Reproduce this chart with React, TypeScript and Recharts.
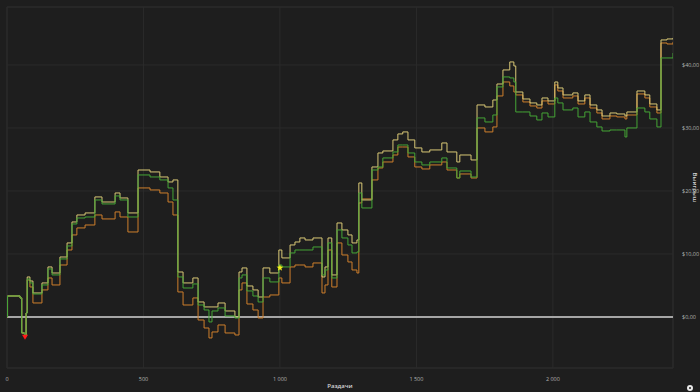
import React from 'react';
import { LineChart, Line, XAxis, YAxis, CartesianGrid, ReferenceLine, ReferenceDot, ReferenceArea } from 'recharts';

// Hands played (x) and three cumulative winnings curves ($)
const hands = [
  0, 2, 48, 54, 64, 70, 74, 84, 95, 128,
  150, 165, 194, 220, 238, 256, 286, 322, 348, 396,
  414, 443, 480, 524, 560, 590, 608, 626, 645, 681,
  700, 722, 740, 751, 773, 799, 835, 850, 861, 879,
  901, 920, 938, 963, 996, 1007, 1037, 1055, 1073, 1092,
  1121, 1154, 1165, 1176, 1190, 1209, 1227, 1249, 1264, 1282,
  1289, 1300, 1337, 1359, 1377, 1414, 1432, 1450, 1469, 1494,
  1520, 1549, 1593, 1612, 1648, 1659, 1700, 1722, 1751, 1780,
  1795, 1817, 1842, 1857, 1864, 1890, 1916, 1941, 1960, 1982,
  2007, 2018, 2037, 2073, 2092, 2117, 2136, 2161, 2180, 2209,
  2234, 2264, 2271, 2308, 2337, 2355, 2381, 2396, 2418, 2440,
];

const goldLine = [
  0, 3.33, 3.02, -2.54, -3.02, 0.63, 6.35, 5.71, 3.81, 5.4,
  7.94, 6.98, 9.52, 11.75, 15.08, 16.19, 16.51, 19.05, 18.25, 19.68,
  18.89, 16.51, 23.33, 23.02, 22.22, 21.43, 21.75, 7.14, 5.4, 6.19,
  2.38, 1.59, 1.59, 1.59, 2.22, 0.95, 0.0, 7.14, 7.78, 4.92,
  4.29, 3.17, 7.78, 6.98, 10.63, 9.37, 11.43, 11.9, 12.54, 12.22,
  12.54, 6.35, 7.94, 12.54, 6.67, 14.92, 13.81, 13.02, 11.75, 12.22,
  21.27, 18.57, 23.81, 26.03, 26.35, 28.1, 29.05, 29.37, 28.1, 26.83,
  26.19, 26.51, 27.62, 26.19, 24.6, 25.71, 24.92, 33.65, 33.33, 34.44,
  36.98, 39.21, 40.48, 39.84, 35.71, 34.6, 33.97, 33.65, 34.76, 34.29,
  37.3, 36.35, 35.24, 35.56, 34.29, 35.24, 33.65, 32.86, 31.9, 32.38,
  32.22, 31.9, 32.54, 35.87, 35.24, 33.81, 32.86, 43.97, 44.13, 44.29,
];

const greenLine = [
  0, 3.33, 3.02, -2.54, -3.02, 0.63, 6.03, 5.4, 3.65, 5.08,
  7.62, 6.67, 9.21, 11.27, 14.76, 15.71, 15.87, 18.57, 17.94, 19.21,
  18.57, 15.87, 22.54, 22.22, 21.75, 20.48, 18.57, 6.35, 4.6, 5.24,
  1.9, 1.11, -0.79, 0.95, 1.43, 0.16, -0.16, 6.19, 6.67, 4.13,
  3.33, 2.38, 6.19, 5.56, 8.25, 7.94, 10.16, 10.63, 10.63, 10.63,
  11.11, 6.67, 7.46, 11.75, 6.19, 13.81, 12.54, 11.43, 10.16, 10.32,
  19.68, 17.3, 23.33, 23.81, 25.24, 26.19, 27.3, 27.3, 26.03, 24.6,
  24.13, 24.6, 25.24, 23.65, 22.06, 23.17, 22.22, 31.59, 30.95, 32.06,
  36.51, 38.1, 37.94, 37.3, 32.54, 32.54, 31.9, 31.27, 32.38, 31.75,
  34.76, 33.97, 32.86, 33.17, 31.75, 32.54, 30.95, 30.16, 29.52, 29.68,
  29.68, 28.57, 30.0, 33.17, 32.54, 31.43, 30.16, 41.11, 41.11, 41.9,
];

const orangeLine = [
  0, 3.33, 3.02, -2.54, -3.02, 0.63, 5.87, 4.76, 2.22, 4.29,
  6.19, 5.08, 8.25, 10.63, 13.02, 14.13, 14.6, 16.19, 15.56, 16.67,
  15.87, 13.49, 20.48, 20.16, 19.68, 18.25, 16.19, 3.97, 1.9, 3.02,
  -0.48, -1.75, -3.33, -2.38, -1.27, -2.54, -2.86, 4.29, 5.4, 2.06,
  1.11, -0.16, 3.17, 3.49, 6.19, 5.4, 7.94, 8.25, 8.25, 7.94,
  8.57, 3.81, 5.08, 10.63, 4.76, 11.75, 9.84, 8.73, 7.46, 6.98,
  18.1, 18.73, 21.75, 23.65, 24.6, 25.71, 26.98, 26.98, 25.4, 23.81,
  23.49, 24.13, 24.6, 23.33, 22.06, 22.7, 22.06, 30.0, 29.37, 30.16,
  35.08, 37.3, 36.67, 35.71, 35.24, 34.13, 33.49, 33.17, 34.29, 33.81,
  36.83, 35.87, 34.76, 35.08, 33.81, 34.76, 33.17, 32.38, 31.43, 31.9,
  31.75, 31.43, 32.06, 35.4, 34.76, 33.33, 32.38, 43.49, 43.33, 43.65,
];

const xTicks = [0, 500, 1000, 1500, 2000];
const yTicks = [0, 10, 20, 30, 40];
const xMax = 2440;
const yMin = -8.1;
const yMax = 49.2;

// lowest point (red) and marked hand (yellow star)
const lowPoint = { hand: 66, value: -3.2 };
const starPoint = { hand: 1000, value: 7.8 };

const data = hands.map((hand, i) => ({
  hand,
  gold: goldLine[i],
  orange: orangeLine[i],
  green: greenLine[i],
}));

const formatHands = (v: number) => (v >= 1000 ? `${Math.floor(v / 1000)} ${String(v % 1000).padStart(3, '0')}` : String(v));
const formatMoney = (v: number) => `$${v.toFixed(2).replace('.', ',')}`;

const tickStyle = { fontSize: 5.5, fill: '#b4b4b4', fontFamily: 'Open Sans' };

const RedTriangle = (props: any) => {
  const { cx, cy } = props;
  return <path d={`M${cx - 3},${cy - 2.5} L${cx + 3},${cy - 2.5} L${cx},${cy + 2.5} Z`} fill="#ff1a1a" />;
};

const Star = (props: any) => {
  const { cx, cy } = props;
  const r1 = 3.6;
  const r2 = 1.5;
  let d = '';
  for (let i = 0; i < 10; i++) {
    const r = i % 2 === 0 ? r1 : r2;
    const a = -Math.PI / 2 + (i * Math.PI) / 5;
    d += `${i === 0 ? 'M' : 'L'}${cx + r * Math.cos(a)},${cy + r * Math.sin(a)} `;
  }
  return <path d={d + 'Z'} fill="#f5ef1a" />;
};

const App: React.FC = () => {
  return (
    <div style={{ position: 'fixed', left: 0, top: 0, width: 700, height: 392, background: '#1e1e1e' }}>
      <LineChart width={700} height={392} data={data} margin={{ top: 7, right: 0, left: 7, bottom: 0 }}>
        <CartesianGrid stroke="#2b2b2b" strokeWidth={1} />
        <ReferenceArea x1={0} x2={xMax} y1={yMin} y2={yMax} fill="none" stroke="#2b2b2b" strokeWidth={1} />
        <XAxis
          dataKey="hand"
          type="number"
          domain={[0, xMax]}
          ticks={xTicks}
          allowDataOverflow
          height={24}
          axisLine={false}
          tickLine={false}
          tick={tickStyle}
          tickMargin={3}
          tickFormatter={formatHands}
          label={{ value: 'Раздачи', position: 'insideBottom', offset: 4, fontSize: 6, fill: '#d4d4d4', fontWeight: 600, fontFamily: 'Open Sans' }}
        />
        <YAxis
          orientation="right"
          type="number"
          domain={[yMin, yMax]}
          ticks={yTicks}
          allowDataOverflow
          width={27}
          axisLine={false}
          tickLine={false}
          tick={{ ...tickStyle, textAnchor: 'start' }}
          tickMargin={3}
          tickFormatter={formatMoney}
          label={{
            content: (p: any) => {
              const vb = p.viewBox || {};
              const x = vb.x + vb.width - 5;
              const y = vb.y + vb.height / 2;
              return (
                <text x={x} y={y} transform={`rotate(90 ${x} ${y})`} textAnchor="middle" dominantBaseline="central"
                  fontSize={6} fill="#d4d4d4" fontWeight={600} fontFamily="Open Sans">
                  Выигрыш
                </text>
              );
            },
          }}
        />
        <ReferenceLine y={0} stroke="#a6a6a6" strokeWidth={2} />
        <Line type="stepAfter" dataKey="orange" stroke="#cf7f2c" strokeWidth={1} dot={false} isAnimationActive={false} />
        <Line type="stepAfter" dataKey="gold" stroke="#d9c876" strokeWidth={1} dot={false} isAnimationActive={false} />
        <Line type="stepAfter" dataKey="green" stroke="#45a536" strokeWidth={1} dot={false} isAnimationActive={false} />
        <ReferenceDot x={lowPoint.hand} y={lowPoint.value} r={3} shape={RedTriangle} />
        <ReferenceDot x={starPoint.hand} y={starPoint.value} r={3} shape={Star} />
      </LineChart>
      <div style={{ position: 'absolute', left: 687, top: 385, width: 6, height: 6, borderRadius: 3, background: '#e8e8e8' }}>
        <div style={{ position: 'absolute', left: 2, top: 2, width: 2, height: 2, borderRadius: 1, background: '#1e1e1e' }} />
      </div>
    </div>
  );
};

export default App;
